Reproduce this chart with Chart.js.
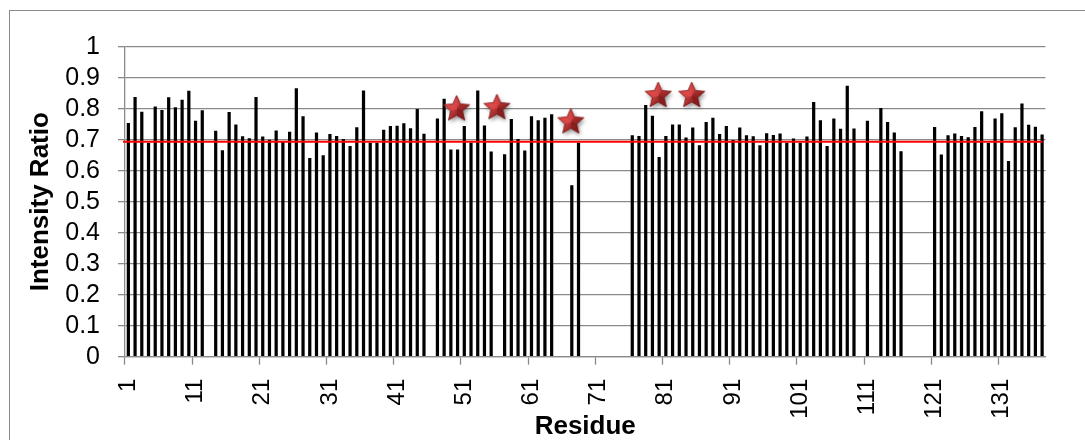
<!DOCTYPE html>
<html>
<head>
<meta charset="utf-8">
<script src="https://cdn.jsdelivr.net/npm/chart.js@4/dist/chart.umd.min.js"></script>
<style>
  html, body { margin: 0; padding: 0; background: #ffffff; }
  #wrap { width: 1085px; height: 440px; position: relative; }
</style>
</head>
<body>
<div id="wrap"><canvas id="c" width="1085" height="440"></canvas></div>
<script>
// Residue numbers along the sequence
const residues = [
  1,2,3,4,5,6,7,8,9,10,11,12,13,14,15,16,17,18,19,20,
  21,22,23,24,25,26,27,28,29,30,31,32,33,34,35,36,37,38,39,40,
  41,42,43,44,45,46,47,48,49,50,51,52,53,54,55,56,57,58,59,60,
  61,62,63,64,65,66,67,68,69,70,71,72,73,74,75,76,77,78,79,80,
  81,82,83,84,85,86,87,88,89,90,91,92,93,94,95,96,97,98,99,100,
  101,102,103,104,105,106,107,108,109,110,111,112,113,114,115,116,117,118,119,120,
  121,122,123,124,125,126,127,128,129,130,131,132,133,134,135,136,137
];

// Peak intensity ratio per residue (null = not observed)
const intensityRatio = [
  0.754,0.838,0.790,0.689,0.807,0.796,0.837,0.805,0.829,0.858,
  0.761,0.795,null,0.729,0.666,0.789,0.749,0.711,0.705,0.838,
  0.710,0.700,0.730,0.693,0.726,0.866,0.776,0.641,0.723,0.650,
  0.718,0.712,0.702,0.680,0.740,0.859,0.690,0.690,0.732,0.744,
  0.745,0.753,0.737,0.799,0.719,null,0.768,0.832,0.668,0.668,
  0.744,0.690,0.859,0.746,0.662,null,0.653,0.767,0.702,0.665,
  0.776,0.763,0.771,0.782,null,null,0.553,0.690,null,null,
  null,null,null,null,null,0.714,0.712,0.812,0.777,0.644,
  0.712,0.749,0.749,0.707,0.739,0.682,0.757,0.771,0.718,0.744,
  0.699,0.739,0.714,0.711,0.682,0.721,0.715,0.720,0.690,0.704,
  0.690,0.710,0.822,0.763,0.680,0.768,0.735,0.874,0.736,null,
  0.761,null,0.802,0.757,0.723,0.663,null,null,null,null,
  0.741,0.652,0.714,0.720,0.712,0.708,0.741,0.792,0.689,0.768,
  0.785,0.631,0.740,0.817,0.748,0.742,0.717
];

// Threshold level drawn as a red reference line
const threshold = 0.693;

// Residues flagged with a star, and the height at which each star sits
const starResidues = [50, 56, 67, 80, 85];
const starLevels = [0.796, 0.800, 0.754, 0.839, 0.839];

// Y-axis tick values
const yTicks = [0, 0.1, 0.2, 0.3, 0.4, 0.5, 0.6, 0.7, 0.8, 0.9, 1];

const FONT = "'Liberation Sans', Arial, Helvetica, sans-serif";

// Bevelled red star used as the marker image
function makeStar(r) {
  const size = Math.ceil(r * 2 + 12);
  const cv = document.createElement('canvas');
  cv.width = size; cv.height = size;
  const g = cv.getContext('2d');
  const cx = size / 2 - 1, cy = size / 2 - 1;
  const pts = [];
  for (let k = 0; k < 10; k++) {
    const a = -Math.PI / 2 + k * Math.PI / 5;
    const rad = (k % 2) ? r * 0.46 : r;
    pts.push([cx + rad * Math.cos(a), cy + rad * Math.sin(a)]);
  }
  // soft drop shadow
  g.save();
  g.shadowColor = 'rgba(0,0,0,0.45)';
  g.shadowBlur = 4;
  g.shadowOffsetX = 1.5;
  g.shadowOffsetY = 2.5;
  g.beginPath();
  pts.forEach((p, i) => i ? g.lineTo(p[0], p[1]) : g.moveTo(p[0], p[1]));
  g.closePath();
  g.fillStyle = '#a82a2a';
  g.fill();
  g.restore();
  // facets lit from upper left
  const light = -3 * Math.PI / 4;
  for (let k = 0; k < 10; k++) {
    const p1 = pts[k], p2 = pts[(k + 1) % 10];
    const mx = (p1[0] + p2[0]) / 2 - cx, my = (p1[1] + p2[1]) / 2 - cy;
    const ang = Math.atan2(my, mx);
    const t = (Math.cos(ang - light) + 1) / 2;
    const rC = Math.round(135 + t * 90), gC = Math.round(30 + t * 45), bC = Math.round(30 + t * 45);
    g.beginPath();
    g.moveTo(cx, cy); g.lineTo(p1[0], p1[1]); g.lineTo(p2[0], p2[1]); g.closePath();
    g.fillStyle = `rgb(${rC},${gC},${bC})`;
    g.fill();
    g.strokeStyle = `rgb(${rC},${gC},${bC})`;
    g.lineWidth = 0.6;
    g.stroke();
  }
  // outline
  g.beginPath();
  pts.forEach((p, i) => i ? g.lineTo(p[0], p[1]) : g.moveTo(p[0], p[1]));
  g.closePath();
  g.strokeStyle = 'rgba(110,20,20,0.8)';
  g.lineWidth = 0.8;
  g.stroke();
  return cv;
}
const starImg = makeStar(13.5);

// Outer frame around the whole figure
const framePlugin = {
  id: 'frame',
  beforeDraw(chart) {
    const ctx = chart.ctx;
    ctx.save();
    ctx.fillStyle = '#ffffff';
    ctx.fillRect(0, 0, chart.width, chart.height);
    ctx.strokeStyle = '#8a8a8a';
    ctx.lineWidth = 1;
    ctx.strokeRect(9.5, 10.5, chart.width + 20, chart.height + 20);
    ctx.restore();
  }
};

// Horizontal red threshold line
const thresholdPlugin = {
  id: 'thresholdLine',
  afterDatasetsDraw(chart) {
    const y = chart.scales.y.getPixelForValue(threshold);
    const area = chart.chartArea;
    const ctx = chart.ctx;
    ctx.save();
    ctx.strokeStyle = '#ff0000';
    ctx.lineWidth = 2;
    ctx.beginPath();
    ctx.moveTo(area.left - 2, y);
    ctx.lineTo(area.right - 3, y);
    ctx.stroke();
    ctx.restore();
  }
};

const starPoints = starResidues.map((r, i) => ({ x: String(r), y: starLevels[i] }));

new Chart(document.getElementById('c'), {
  type: 'bar',
  data: {
    labels: residues.map(String),
    datasets: [
      {
        type: 'line',
        label: 'flagged',
        data: starPoints,
        showLine: false,
        pointStyle: starImg,
        pointRadius: 13,
        pointHoverRadius: 13,
        clip: false,
        order: 0
      },
      {
        type: 'bar',
        label: 'Intensity Ratio',
        data: intensityRatio,
        backgroundColor: '#000000',
        borderWidth: 0,
        barPercentage: 0.48,
        categoryPercentage: 1.0,
        order: 1
      }
    ]
  },
  options: {
    responsive: false,
    animation: false,
    devicePixelRatio: 1,
    layout: { padding: { top: 46.7, left: 0, right: 25, bottom: 0 } },
    plugins: {
      legend: { display: false },
      tooltip: { enabled: false }
    },
    scales: {
      x: {
        type: 'category',
        offset: true,
        grid: {
          offset: true,
          drawOnChartArea: false,
          drawTicks: true,
          tickLength: 8,
          color: 'transparent',
          tickColor: (ctx) => (ctx.index % 10 === 0 && ctx.index < residues.length) ? '#8a8a8a' : 'transparent',
          tickWidth: 1.3
        },
        border: { display: true, color: '#8a8a8a', width: 1.3 },
        ticks: {
          autoSkip: false,
          maxRotation: 90,
          minRotation: 90,
          padding: 14,
          color: '#000000',
          font: { family: FONT, size: 24 },
          callback: function (v, i) { return i % 10 === 0 ? this.getLabelForValue(v) : ''; }
        },
        title: {
          display: true,
          text: 'Residue',
          color: '#000000',
          font: { family: FONT, size: 26, weight: 'bold', lineHeight: 1 },
          padding: { top: 0, bottom: 0 }
        },
        afterFit(s) { s.height = 83.3; }
      },
      y: {
        min: 0,
        max: 1,
        afterBuildTicks(s) { s.ticks = yTicks.map(v => ({ value: v })); },
        grid: {
          color: '#8a8a8a',
          lineWidth: 1.3,
          drawTicks: true,
          tickLength: 7,
          tickColor: '#8a8a8a'
        },
        border: { display: true, color: '#8a8a8a', width: 1.3 },
        ticks: {
          autoSkip: false,
          padding: 18,
          color: '#000000',
          font: { family: FONT, size: 25 },
          callback: (v) => String(+Number(v).toFixed(1))
        },
        title: {
          display: true,
          text: 'Intensity Ratio',
          color: '#000000',
          font: { family: FONT, size: 26, weight: 'bold', lineHeight: 1.2 },
          padding: { top: 25, bottom: 0 }
        },
        afterFit(s) { s.width = 125; }
      }
    }
  },
  plugins: [framePlugin, thresholdPlugin]
});
</script>
</body>
</html>
